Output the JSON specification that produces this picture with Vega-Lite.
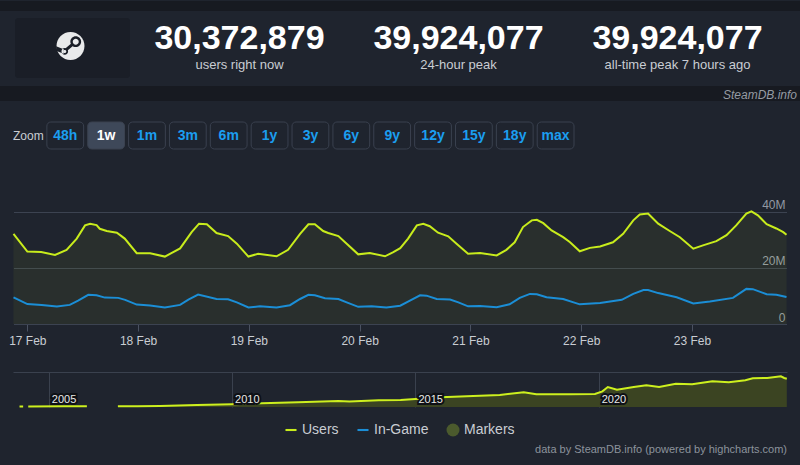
{
"$schema":"https://vega.github.io/schema/vega-lite/v6.json",
"background":"#1f242e",
"padding":0,
"spacing":0,
"bounds":"flush",
"config":{"view":{"stroke":null},"font":"Liberation Sans"},
"datasets":{
"users":[
{"t":"2025-02-16T21:00Z","v":32.1},{"t":"2025-02-17T00:00Z","v":25.8},{"t":"2025-02-17T03:00Z","v":25.6},{"t":"2025-02-17T06:00Z","v":24.6},{"t":"2025-02-17T08:30Z","v":26.4},{"t":"2025-02-17T10:42Z","v":30.4},{"t":"2025-02-17T12:30Z","v":35.1},{"t":"2025-02-17T13:36Z","v":35.7},{"t":"2025-02-17T15:00Z","v":35.2},{"t":"2025-02-17T15:42Z","v":33.9},{"t":"2025-02-17T17:12Z","v":33.1},{"t":"2025-02-17T19:24Z","v":32.5},{"t":"2025-02-17T21:06Z","v":30.4},{"t":"2025-02-17T23:42Z","v":25.2},
{"t":"2025-02-18T02:36Z","v":25.2},{"t":"2025-02-18T05:48Z","v":24.0},{"t":"2025-02-18T09:06Z","v":26.9},{"t":"2025-02-18T11:36Z","v":32.7},{"t":"2025-02-18T13:12Z","v":35.7},{"t":"2025-02-18T14:54Z","v":35.5},{"t":"2025-02-18T17:00Z","v":32.4},{"t":"2025-02-18T19:30Z","v":31.3},{"t":"2025-02-18T21:24Z","v":28.6},{"t":"2025-02-18T23:54Z","v":24.0},
{"t":"2025-02-19T02:00Z","v":25.0},{"t":"2025-02-19T06:00Z","v":24.1},{"t":"2025-02-19T08:30Z","v":26.4},{"t":"2025-02-19T11:06Z","v":32.1},{"t":"2025-02-19T12:54Z","v":35.5},{"t":"2025-02-19T14:18Z","v":35.5},{"t":"2025-02-19T16:06Z","v":33.1},{"t":"2025-02-19T17:12Z","v":32.4},{"t":"2025-02-19T19:24Z","v":31.3},{"t":"2025-02-19T21:12Z","v":28.6},{"t":"2025-02-19T23:42Z","v":24.8},
{"t":"2025-02-20T02:12Z","v":25.3},{"t":"2025-02-20T05:30Z","v":24.1},{"t":"2025-02-20T07:18Z","v":25.6},{"t":"2025-02-20T08:48Z","v":27.0},{"t":"2025-02-20T10:30Z","v":30.4},{"t":"2025-02-20T12:24Z","v":35.1},{"t":"2025-02-20T13:48Z","v":35.7},{"t":"2025-02-20T15:12Z","v":34.8},{"t":"2025-02-20T17:00Z","v":32.5},{"t":"2025-02-20T19:12Z","v":31.2},{"t":"2025-02-20T21:00Z","v":28.6},{"t":"2025-02-20T23:30Z","v":25.0},
{"t":"2025-02-21T02:06Z","v":25.3},{"t":"2025-02-21T05:42Z","v":24.4},{"t":"2025-02-21T07:48Z","v":26.4},{"t":"2025-02-21T09:36Z","v":29.1},{"t":"2025-02-21T11:24Z","v":34.5},{"t":"2025-02-21T13:18Z","v":36.9},{"t":"2025-02-21T14:24Z","v":37.1},{"t":"2025-02-21T15:48Z","v":35.9},{"t":"2025-02-21T17:36Z","v":33.3},{"t":"2025-02-21T20:06Z","v":30.9},{"t":"2025-02-21T21:36Z","v":29.1},{"t":"2025-02-21T23:42Z","v":25.9},
{"t":"2025-02-22T01:54Z","v":27.1},{"t":"2025-02-22T04:06Z","v":27.6},{"t":"2025-02-22T06:54Z","v":29.1},{"t":"2025-02-22T09:06Z","v":32.1},{"t":"2025-02-22T11:18Z","v":36.9},{"t":"2025-02-22T12:42Z","v":39.0},{"t":"2025-02-22T14:30Z","v":39.3},{"t":"2025-02-22T16:42Z","v":35.7},{"t":"2025-02-22T19:12Z","v":33.1},{"t":"2025-02-22T21:24Z","v":30.9},
{"t":"2025-02-23T00:18Z","v":26.8},{"t":"2025-02-23T02:24Z","v":28.0},{"t":"2025-02-23T05:18Z","v":29.5},{"t":"2025-02-23T07:30Z","v":31.6},{"t":"2025-02-23T09:36Z","v":35.1},{"t":"2025-02-23T11:48Z","v":39.3},{"t":"2025-02-23T12:54Z","v":40.1},{"t":"2025-02-23T14:18Z","v":38.7},{"t":"2025-02-23T16:12Z","v":35.5},{"t":"2025-02-23T18:18Z","v":34.0},{"t":"2025-02-23T19:48Z","v":32.7},{"t":"2025-02-23T20:30Z","v":31.8}
],
"ingame":[
{"t":"2025-02-16T21:00Z","v":9.5},{"t":"2025-02-17T00:00Z","v":7.1},{"t":"2025-02-17T03:06Z","v":6.8},{"t":"2025-02-17T06:24Z","v":6.2},{"t":"2025-02-17T09:12Z","v":6.8},{"t":"2025-02-17T11:00Z","v":8.3},{"t":"2025-02-17T13:12Z","v":10.4},{"t":"2025-02-17T15:00Z","v":10.2},{"t":"2025-02-17T16:48Z","v":9.4},{"t":"2025-02-17T19:42Z","v":9.3},{"t":"2025-02-17T21:12Z","v":8.6},{"t":"2025-02-17T23:42Z","v":6.9},
{"t":"2025-02-18T02:36Z","v":6.6},{"t":"2025-02-18T05:48Z","v":5.9},{"t":"2025-02-18T09:06Z","v":6.8},{"t":"2025-02-18T10:54Z","v":8.7},{"t":"2025-02-18T13:00Z","v":10.5},{"t":"2025-02-18T17:00Z","v":8.9},{"t":"2025-02-18T19:30Z","v":8.8},{"t":"2025-02-18T21:24Z","v":7.7},{"t":"2025-02-18T23:54Z","v":5.9},
{"t":"2025-02-19T02:24Z","v":6.3},{"t":"2025-02-19T06:00Z","v":5.9},{"t":"2025-02-19T08:54Z","v":6.7},{"t":"2025-02-19T11:06Z","v":8.9},{"t":"2025-02-19T12:54Z","v":10.4},{"t":"2025-02-19T14:18Z","v":10.2},{"t":"2025-02-19T16:30Z","v":9.2},{"t":"2025-02-19T19:24Z","v":8.9},{"t":"2025-02-19T21:12Z","v":7.7},{"t":"2025-02-19T23:42Z","v":6.1},
{"t":"2025-02-20T02:36Z","v":6.3},{"t":"2025-02-20T05:48Z","v":5.9},{"t":"2025-02-20T08:48Z","v":6.5},{"t":"2025-02-20T10:54Z","v":8.3},{"t":"2025-02-20T13:06Z","v":10.2},{"t":"2025-02-20T14:30Z","v":10.1},{"t":"2025-02-20T16:42Z","v":8.9},{"t":"2025-02-20T19:36Z","v":8.7},{"t":"2025-02-20T21:24Z","v":7.7},{"t":"2025-02-20T23:30Z","v":6.3},
{"t":"2025-02-21T02:06Z","v":6.4},{"t":"2025-02-21T05:42Z","v":6.0},{"t":"2025-02-21T08:30Z","v":7.0},{"t":"2025-02-21T10:42Z","v":9.3},{"t":"2025-02-21T12:54Z","v":10.7},{"t":"2025-02-21T14:24Z","v":10.6},{"t":"2025-02-21T16:30Z","v":9.5},{"t":"2025-02-21T20:06Z","v":8.9},{"t":"2025-02-21T23:42Z","v":7.0},
{"t":"2025-02-22T02:18Z","v":7.3},{"t":"2025-02-22T04:06Z","v":7.5},{"t":"2025-02-22T08:48Z","v":8.6},{"t":"2025-02-22T11:18Z","v":10.7},{"t":"2025-02-22T13:30Z","v":12.1},{"t":"2025-02-22T14:30Z","v":12.1},{"t":"2025-02-22T16:42Z","v":11.0},{"t":"2025-02-22T20:42Z","v":9.5},
{"t":"2025-02-23T00:18Z","v":7.3},{"t":"2025-02-23T03:54Z","v":8.0},{"t":"2025-02-23T08:54Z","v":9.3},{"t":"2025-02-23T11:48Z","v":12.5},{"t":"2025-02-23T13:12Z","v":12.4},{"t":"2025-02-23T16:12Z","v":10.6},{"t":"2025-02-23T18:18Z","v":10.4},{"t":"2025-02-23T20:30Z","v":9.6}
],
"nav":[
{"d":"2004-03-15","v":0.6},{"d":"2004-04-20","v":0.6},{"d":"2004-05-01","v":null},{"d":"2004-06-10","v":0.7},{"d":"2005-06-01","v":0.8},{"d":"2006-01-15","v":0.9},{"d":"2006-02-01","v":null},
{"d":"2006-11-20","v":1.0},{"d":"2007-06-01","v":1.0},{"d":"2008-01-15","v":1.2},{"d":"2009-01-15","v":2.4},{"d":"2010-01-01","v":3.2},{"d":"2010-10-20","v":4.4},{"d":"2011-10-20","v":5.6},{"d":"2012-11-25","v":7.2},{"d":"2013-03-15","v":6.5},{"d":"2014-01-01","v":8.0},{"d":"2014-08-07","v":8.4},{"d":"2015-01-01","v":9.6},{"d":"2015-09-12","v":11.6},{"d":"2016-05-26","v":12.8},{"d":"2017-04-20","v":14.4},{"d":"2017-12-15","v":17.6},{"d":"2018-04-20","v":15.2},{"d":"2019-03-15","v":15.2},{"d":"2019-11-25","v":15.6},{"d":"2020-02-07","v":18.8},{"d":"2020-04-01","v":24.0},{"d":"2020-07-01","v":20.8},{"d":"2020-12-15","v":24.0},{"d":"2021-04-20","v":26.0},{"d":"2021-08-25","v":24.0},{"d":"2022-02-07","v":28.0},{"d":"2022-07-20","v":27.2},{"d":"2023-02-07","v":30.8},{"d":"2023-07-20","v":29.6},{"d":"2024-01-01","v":32.0},{"d":"2024-03-15","v":34.4},{"d":"2024-08-07","v":34.8},{"d":"2024-12-20","v":36.8},{"d":"2025-01-22","v":34.8},{"d":"2025-02-17","v":34.0}
],
"stats":[
{"stat":"users right now","value":"30,372,879"},
{"stat":"24-hour peak","value":"39,924,077"},
{"stat":"all-time peak 7 hours ago","value":"39,924,077"}
],
"buttons":[{"b":"Zoom"},{"b":"48h"},{"b":"1w"},{"b":"1m"},{"b":"3m"},{"b":"6m"},{"b":"1y"},{"b":"3y"},{"b":"6y"},{"b":"9y"},{"b":"12y"},{"b":"15y"},{"b":"18y"},{"b":"max"}],
"years":[{"yr":"2005-01-01","lab":"2005"},{"yr":"2010-01-01","lab":"2010"},{"yr":"2015-01-01","lab":"2015"},{"yr":"2020-01-01","lab":"2020"}],
"series":[{"s":"Users"},{"s":"In-Game"},{"s":"Markers"}]
},
"vconcat":[
{"width":800,"height":10,"view":{"fill":"#171a21"},"data":{"values":[{}]},"mark":"text","encoding":{"text":{"value":""}}},
{"width":800,"height":75,
 "resolve":{"scale":{"x":"independent","y":"independent"}},
 "layer":[
  {"data":{"values":[{"k":"steam"}]},"mark":{"type":"bar","fill":"#1a1e27","cornerRadius":3},
   "encoding":{"x":{"field":"k","type":"nominal","scale":{"range":[15,130],"paddingInner":0,"paddingOuter":0},"axis":null},
               "y":{"field":"k","type":"nominal","scale":{"range":[7,67],"paddingInner":0,"paddingOuter":0},"axis":null}}},
  {"data":{"values":[{"k":"steam"}]},"mark":{"type":"point","filled":true,"fill":"#e9eaeb","strokeWidth":0,"opacity":1,"size":900,
     "shape":"M0.933,0A0.933,0.933,0,1,1,-0.933,0A0.933,0.933,0,1,1,0.933,0Z"},
   "encoding":{"x":{"field":"k","type":"nominal","scale":{"range":[13,128],"paddingInner":0,"paddingOuter":0},"axis":null},
               "y":{"field":"k","type":"nominal","scale":{"range":[5,65],"paddingInner":0,"paddingOuter":0},"axis":null}}},
  {"data":{"values":[{"k":"steam"}]},"mark":{"type":"point","filled":true,"fill":"#1a1e27","strokeWidth":0,"opacity":1,"size":900,
     "shape":"M0.71,-0.29A0.36,0.36,0,1,1,-0.01,-0.29A0.36,0.36,0,1,1,0.71,-0.29ZM0.415,-0.214L-0.315,0.406L-0.445,0.254L0.285,-0.366ZM-0.16,0.36A0.22,0.22,0,1,1,-0.6,0.36A0.22,0.22,0,1,1,-0.16,0.36ZM-0.45,0.22L-0.96,0.02L-0.93,0.34L-0.45,0.52Z"},
   "encoding":{"x":{"field":"k","type":"nominal","scale":{"range":[13,128],"paddingInner":0,"paddingOuter":0},"axis":null},
               "y":{"field":"k","type":"nominal","scale":{"range":[5,65],"paddingInner":0,"paddingOuter":0},"axis":null}}},
  {"data":{"values":[{"k":"steam"}]},"mark":{"type":"point","filled":true,"fill":"#e9eaeb","strokeWidth":0,"opacity":1,"size":900,
     "shape":"M0.55,-0.29A0.2,0.2,0,1,1,0.15,-0.29A0.2,0.2,0,1,1,0.55,-0.29ZM-0.28,0.36A0.1,0.1,0,1,1,-0.48,0.36A0.1,0.1,0,1,1,-0.28,0.36Z"},
   "encoding":{"x":{"field":"k","type":"nominal","scale":{"range":[13,128],"paddingInner":0,"paddingOuter":0},"axis":null},
               "y":{"field":"k","type":"nominal","scale":{"range":[5,65],"paddingInner":0,"paddingOuter":0},"axis":null}}},
  {"data":{"name":"stats"},"mark":{"type":"text","fontSize":34,"fontWeight":"bold","fill":"#ffffff","baseline":"alphabetic","align":"center"},
   "encoding":{"x":{"field":"stat","type":"nominal","sort":null,"scale":{"domain":["users right now","24-hour peak","all-time peak 7 hours ago"],"range":[130,787],"paddingInner":0,"paddingOuter":0},"axis":null},
               "text":{"field":"value"}}},
  {"data":{"name":"stats"},"mark":{"type":"text","fontSize":13,"fill":"#c9cdd3","baseline":"alphabetic","align":"center","dy":20.5},
   "encoding":{"x":{"field":"stat","type":"nominal","sort":null,"scale":{"domain":["users right now","24-hour peak","all-time peak 7 hours ago"],"range":[130,787],"paddingInner":0,"paddingOuter":0},"axis":null},
               "text":{"field":"stat"}}}
 ]},
{"width":800,"height":15,"view":{"fill":"#171a21"},"data":{"values":[{"t":"SteamDB.info"}]},
 "mark":{"type":"text","align":"right","baseline":"middle","fontStyle":"italic","fontSize":12,"fill":"#959ba3","dx":-3,"dy":1},
 "encoding":{"x":{"datum":1,"type":"quantitative","scale":{"domain":[0,1]},"axis":null},"text":{"field":"t"}}},
{"width":800,"height":21,"data":{"values":[{}]},"mark":"text","encoding":{"text":{"value":""}}},
{"width":800,"height":27,"data":{"name":"buttons"},
 "layer":[
  {"transform":[{"filter":"datum.b !== 'Zoom'"}],
   "mark":{"type":"bar","cornerRadius":4,"stroke":"#3a414f","strokeWidth":1},
   "encoding":{"x":{"field":"b","type":"nominal","sort":null,"scale":{"domain":["Zoom","48h","1w","1m","3m","6m","1y","3y","6y","9y","12y","15y","18y","max"],"range":[6,574],"paddingInner":0.1,"paddingOuter":0},"axis":null},
               "fill":{"condition":{"test":"datum.b === '1w'","value":"#3e4859"},"value":"#1f242e"}}},
  {"transform":[{"filter":"datum.b !== 'Zoom'"}],
   "mark":{"type":"text","fontSize":14,"fontWeight":"bold","baseline":"middle","align":"center"},
   "encoding":{"x":{"field":"b","type":"nominal","sort":null,"axis":null},
               "text":{"field":"b"},
               "fill":{"condition":{"test":"datum.b === '1w'","value":"#ffffff"},"value":"#1b9ef0"}}},
  {"transform":[{"filter":"datum.b === 'Zoom'"}],
   "mark":{"type":"text","fontSize":12,"baseline":"middle","align":"center","fill":"#c9cdd3","dx":4},
   "encoding":{"x":{"field":"b","type":"nominal","sort":null,"axis":null},"text":{"field":"b"}}}
 ]},
{"width":800,"height":41,"data":{"values":[{}]},"mark":"text","encoding":{"text":{"value":""}}},
{"width":800,"height":134,
 "layer":[
  {"data":{"name":"users"},"mark":{"type":"area","color":"#c8ec1c","opacity":0.06},
   "encoding":{"x":{"field":"t","type":"temporal"},"y":{"field":"v","type":"quantitative"}}},
  {"data":{"name":"users"},"mark":{"type":"line","color":"#c8ec1c","strokeWidth":2},
   "encoding":{"x":{"field":"t","type":"temporal"},"y":{"field":"v","type":"quantitative"}}},
  {"data":{"name":"ingame"},"mark":{"type":"line","color":"#1b8ed6","strokeWidth":2},
   "encoding":{"x":{"field":"t","type":"temporal",
      "scale":{"type":"utc","domain":[{"year":2025,"month":2,"date":16,"hours":21,"utc":true},{"year":2025,"month":2,"date":23,"hours":20,"minutes":30,"utc":true}],"range":[13.5,786.5]},
      "axis":{"title":null,"format":"%-d %b","tickCount":{"interval":"day","step":1},"labelFontSize":12,"labelColor":"#c9cdd3","tickColor":"#4a5160","tickSize":7,"domainColor":"#3c4351","grid":false,"labelPadding":4,"labelFlush":false,"labelOverlap":false}},
     "y":{"field":"v","type":"quantitative",
      "scale":{"domain":[0,47.7],"nice":false,"zero":true},
      "axis":{"title":null,"orient":"right","values":[0,20,40],"grid":true,"gridColor":"#3c4351","domain":false,"ticks":false,"tickSize":0,
        "labelExpr":"datum.value == 0 ? '0' : datum.value + 'M'","labelAlign":"right","labelBaseline":"alphabetic","labelOffset":-3,"labelPadding":-15,"labelFontSize":12,"labelColor":"#9299a3"}}}}
 ]},
{"width":800,"height":48,"data":{"values":[{}]},"mark":"text","encoding":{"text":{"value":""}}},
{"width":800,"height":35,
 "layer":[
  {"data":{"name":"nav"},"mark":{"type":"area","color":"#3b4422","opacity":1,"invalid":"break-paths-show-domains"},
   "encoding":{"x":{"field":"d","type":"temporal",
      "scale":{"type":"utc","domain":[{"year":2004,"month":1,"date":10,"utc":true},{"year":2025,"month":2,"date":19,"utc":true}],"range":[13,787]},
      "axis":{"title":null,"grid":true,"gridColor":"#3a414e","labels":false,"ticks":false,"domain":false,
        "values":[{"year":2005,"utc":true},{"year":2010,"utc":true},{"year":2015,"utc":true},{"year":2020,"utc":true}]}},
     "y":{"field":"v","type":"quantitative","scale":{"domain":[0,42],"nice":false,"zero":true},
      "axis":{"title":null,"values":[42],"grid":true,"gridColor":"#3a414e","labels":false,"ticks":false,"domain":false}}}},
  {"data":{"name":"nav"},"mark":{"type":"line","color":"#cdf01e","strokeWidth":2,"invalid":"break-paths-show-domains"},
   "encoding":{"x":{"field":"d","type":"temporal"},"y":{"field":"v","type":"quantitative"}}},
  {"data":{"name":"years"},"mark":{"type":"text","align":"left","baseline":"alphabetic","dx":3,"fontSize":11,"fill":"#0e1015","stroke":"#0e1015","strokeWidth":4,"strokeJoin":"miter"},
   "encoding":{"x":{"field":"yr","type":"temporal"},"y":{"datum":4.4,"type":"quantitative"},"text":{"field":"lab"}}},
  {"data":{"name":"years"},"mark":{"type":"text","align":"left","baseline":"alphabetic","dx":3,"fontSize":11,"fill":"#e8e8e8"},
   "encoding":{"x":{"field":"yr","type":"temporal"},"y":{"datum":4.4,"type":"quantitative"},"text":{"field":"lab"}}}
 ]},
{"width":800,"height":15,"data":{"values":[{}]},"mark":"text","encoding":{"text":{"value":""}}},
{"width":800,"height":16,"data":{"name":"series"},
 "mark":{"type":"point","filled":true,"opacity":0},
 "encoding":{
  "color":{"field":"s","type":"nominal","sort":null,"scale":{"domain":["Users","In-Game","Markers"],"range":["#c8ec1c","#1b8ed6","#4b5a2d"]},
    "legend":{"title":null,"orient":"none","legendX":284,"legendY":422,"direction":"horizontal","columnPadding":17,"labelOffset":4,"symbolSize":169,"labelFontSize":14,"labelColor":"#c9cdd3","symbolOpacity":1,"symbolStrokeWidth":0}},
  "shape":{"field":"s","type":"nominal","sort":null,"scale":{"domain":["Users","In-Game","Markers"],"range":["M-0.85,-0.16H0.85V0.16H-0.85Z","M-0.85,-0.16H0.85V0.16H-0.85Z","circle"]},
    "legend":{"title":null,"orient":"none","legendX":284,"legendY":422,"direction":"horizontal","columnPadding":17,"labelOffset":4,"symbolSize":169,"labelFontSize":14,"labelColor":"#c9cdd3","symbolOpacity":1,"symbolStrokeWidth":0}}
 }},
{"width":800,"height":28,"data":{"values":[{"t":"data by SteamDB.info (powered by highcharts.com)"}]},
 "mark":{"type":"text","align":"right","baseline":"middle","fontSize":11,"fill":"#8c939c","dx":-13,"dy":-2},
 "encoding":{"x":{"datum":1,"type":"quantitative","scale":{"domain":[0,1]},"axis":null},"text":{"field":"t"}}}
]
}
